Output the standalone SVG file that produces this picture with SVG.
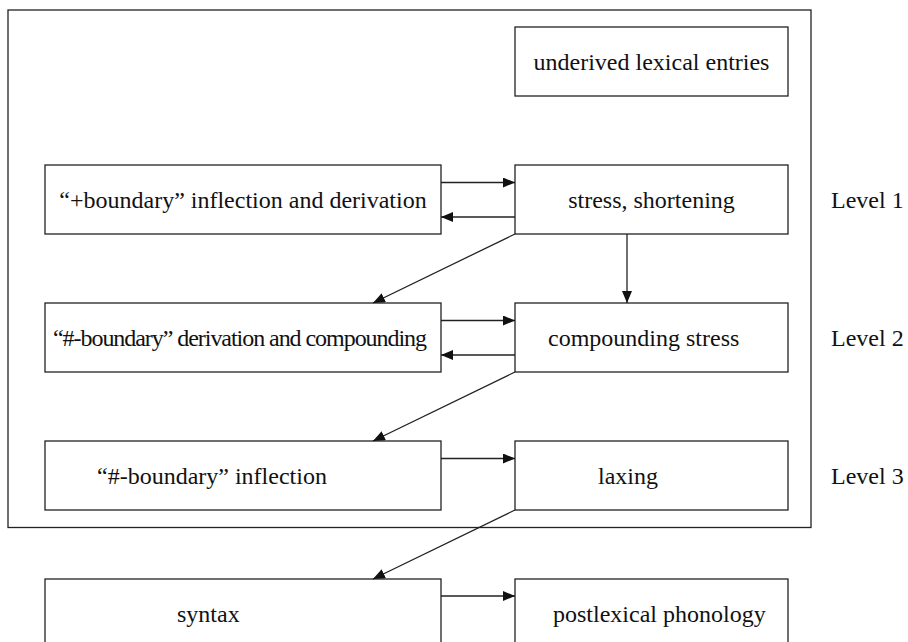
<svg xmlns="http://www.w3.org/2000/svg" width="908" height="642" viewBox="0 0 908 642">
  <style>
    .frame { fill: none; stroke: #222; stroke-width: 1.3; }
    .box { fill: #fff; stroke: #222; stroke-width: 1.3; }
    .lbl { font-family: "Liberation Serif", "Times New Roman", serif; font-size: 24px; fill: #111; }
    .edge { fill: none; stroke: #222; stroke-width: 1.3; marker-end: url(#head); }
  </style>
  <defs>
    <marker id="head" markerUnits="userSpaceOnUse" markerWidth="12" markerHeight="10" refX="12" refY="5" orient="auto">
      <path d="M0,0 L12,5 L0,10 z" fill="#111"/>
    </marker>
  </defs>
  <rect width="908" height="642" fill="#fff"/>

  <!-- lexicon frame -->
  <rect id="lexicon" class="frame" x="8" y="10" width="803" height="517.5"/>

  <g id="underived">
    <rect class="box" x="515" y="27" width="273" height="69"/>
    <text class="lbl" x="651.5" y="70" text-anchor="middle">underived lexical entries</text>
  </g>

  <g id="plus-boundary">
    <rect class="box" x="45" y="165" width="396" height="69"/>
    <text class="lbl" x="243" y="207.5" text-anchor="middle">“+boundary” inflection and derivation</text>
  </g>
  <g id="stress">
    <rect class="box" x="515" y="165" width="273" height="69"/>
    <text class="lbl" x="651.5" y="207.5" text-anchor="middle">stress, shortening</text>
  </g>

  <g id="hash-derivation">
    <rect class="box" x="45" y="303" width="396" height="69"/>
    <text class="lbl" x="53" y="345.5" textLength="374" lengthAdjust="spacing">“#-boundary” derivation and compounding</text>
  </g>
  <g id="compound-stress">
    <rect class="box" x="515" y="303" width="273" height="69"/>
    <text class="lbl" x="548" y="345.5">compounding stress</text>
  </g>

  <g id="hash-inflection">
    <rect class="box" x="45" y="441" width="396" height="69"/>
    <text class="lbl" x="97" y="483.5">“#-boundary” inflection</text>
  </g>
  <g id="laxing">
    <rect class="box" x="515" y="441" width="273" height="69"/>
    <text class="lbl" x="598" y="483.5">laxing</text>
  </g>

  <g id="syntax">
    <rect class="box" x="45" y="579" width="396" height="69"/>
    <text class="lbl" x="177" y="621.5">syntax</text>
  </g>
  <g id="postlexical">
    <rect class="box" x="515" y="579" width="273" height="69"/>
    <text class="lbl" x="553" y="621.5">postlexical phonology</text>
  </g>

  <g id="levels">
    <text class="lbl" x="831" y="207.5">Level 1</text>
    <text class="lbl" x="831" y="345.5">Level 2</text>
    <text class="lbl" x="831" y="483.5">Level 3</text>
  </g>

  <g id="connectors">
    <line class="edge" x1="441" y1="182.5" x2="515" y2="182.5"/>
    <line class="edge" x1="515" y1="217" x2="441" y2="217"/>
    <line class="edge" x1="627" y1="234" x2="627" y2="303"/>
    <line class="edge" x1="515" y1="234" x2="373" y2="303"/>
    <line class="edge" x1="441" y1="320.5" x2="515" y2="320.5"/>
    <line class="edge" x1="515" y1="355" x2="441" y2="355"/>
    <line class="edge" x1="515" y1="372" x2="373" y2="441"/>
    <line class="edge" x1="441" y1="458.5" x2="515" y2="458.5"/>
    <line class="edge" x1="515" y1="510" x2="373" y2="579"/>
    <line class="edge" x1="441" y1="596" x2="515" y2="596"/>
  </g>
</svg>
